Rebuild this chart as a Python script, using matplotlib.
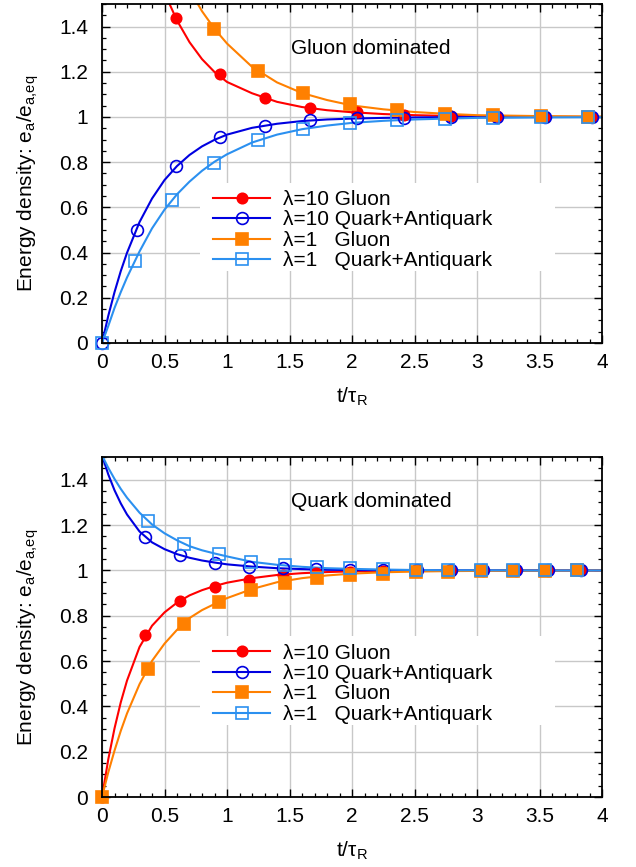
import matplotlib
matplotlib.use("Agg")
import matplotlib.pyplot as plt
from matplotlib.lines import Line2D
from matplotlib.patches import Rectangle
from matplotlib.ticker import MultipleLocator, FuncFormatter

plt.rcParams['font.family'] = ['Liberation Sans', 'DejaVu Sans']
plt.rcParams['mathtext.fontset'] = 'custom'
plt.rcParams['mathtext.rm'] = 'Liberation Sans'
plt.rcParams['mathtext.it'] = 'Liberation Sans:italic'

# time grid for the smooth curves (t / tau_R)
t_curve = [0, 0.05, 0.1, 0.15, 0.2, 0.3, 0.4, 0.5, 0.6, 0.7, 0.8, 0.9, 1.0,
           1.2, 1.4, 1.6, 1.8, 2.0, 2.25, 2.5, 2.75, 3.0, 3.5, 4.0]

# gluon dominated initial condition (top panel)
gd_g10 = [2.967, 2.731, 2.525, 2.342, 2.182, 1.915, 1.710, 1.549, 1.427, 1.331, 1.256, 1.199, 1.155,
          1.105, 1.067, 1.044, 1.030, 1.021, 1.013, 1.008, 1.005, 1.003, 1.001, 1.0]
gd_q10 = [0, 0.120, 0.225, 0.318, 0.399, 0.535, 0.639, 0.721, 0.783, 0.832, 0.870, 0.899, 0.922,
          0.952, 0.970, 0.982, 0.989, 0.993, 0.996, 0.998, 0.999, 0.9995, 1.0, 1.0]
gd_g1 = [2.967, 2.820, 2.662, 2.525, 2.397, 2.171, 1.970, 1.807, 1.673, 1.563, 1.468, 1.390, 1.325,
         1.222, 1.153, 1.106, 1.075, 1.051, 1.034, 1.022, 1.014, 1.008, 1.004, 1.002]
gd_q1 = [0, 0.075, 0.155, 0.225, 0.290, 0.405, 0.507, 0.590, 0.658, 0.714, 0.762, 0.802, 0.835,
         0.887, 0.922, 0.946, 0.962, 0.974, 0.983, 0.989, 0.993, 0.996, 0.998, 0.999]

# quark dominated initial condition (bottom panel)
qd_g10 = [0, 0.166, 0.303, 0.418, 0.514, 0.662, 0.756, 0.815, 0.858, 0.890, 0.913, 0.931, 0.946,
          0.966, 0.980, 0.988, 0.993, 0.996, 0.998, 0.999, 1.0, 1.0, 1.0, 1.0]
qd_q10 = [1.508, 1.424, 1.354, 1.296, 1.247, 1.172, 1.124, 1.094, 1.072, 1.056, 1.044, 1.035, 1.027,
          1.017, 1.010, 1.006, 1.003, 1.002, 1.001, 1.0, 1.0, 1.0, 1.0, 1.0]
qd_g1 = [0, 0.109, 0.205, 0.292, 0.369, 0.498, 0.601, 0.677, 0.738, 0.790, 0.825, 0.852, 0.878,
         0.918, 0.948, 0.966, 0.978, 0.986, 0.992, 0.995, 0.997, 0.998, 0.999, 1.0]
qd_q1 = [1.508, 1.453, 1.404, 1.360, 1.321, 1.255, 1.203, 1.164, 1.133, 1.107, 1.089, 1.075, 1.062,
         1.038, 1.025, 1.016, 1.010, 1.007, 1.004, 1.002, 1.001, 1.001, 1.0, 1.0]

# marker points
gd_t10 = [0, 0.277, 0.594, 0.94, 1.30, 1.667, 2.04, 2.416, 2.79, 3.16, 3.54, 3.92]
gd_mg10 = [2.967, 1.98, 1.436, 1.19, 1.086, 1.041, 1.021, 1.011, 1.006, 1.003, 1.002, 1.001]
gd_mq10 = [0, 0.502, 0.782, 0.91, 0.96, 0.987, 0.994, 0.997, 0.998, 0.999, 1.0, 1.0]
gd_t1 = [0, 0.264, 0.56, 0.893, 1.245, 1.61, 1.98, 2.36, 2.744, 3.125, 3.51, 3.89]
gd_mg1 = [2.967, 2.26, 1.72, 1.391, 1.204, 1.108, 1.058, 1.03, 1.015, 1.008, 1.004, 1.002]
gd_mq1 = [0, 0.361, 0.634, 0.797, 0.90, 0.947, 0.972, 0.985, 0.993, 0.996, 0.998, 0.999]

qd_t10 = [0, 0.344, 0.627, 0.901, 1.176, 1.445, 1.71, 1.98, 2.25, 2.52, 2.79, 3.05, 3.31, 3.57, 3.83]
qd_mg10 = [0, 0.715, 0.865, 0.926, 0.957, 0.978, 0.989, 0.994, 0.997, 0.998, 0.999, 1.0, 1.0, 1.0, 1.0]
qd_mq10 = [1.508, 1.146, 1.067, 1.035, 1.015, 1.009, 1.005, 1.003, 1.002, 1.001, 1.0, 1.0, 1.0, 1.0, 1.0]
qd_t1 = [0, 0.365, 0.658, 0.936, 1.195, 1.46, 1.72, 1.98, 2.245, 2.51, 2.77, 3.03, 3.29, 3.54, 3.80]
qd_mg1 = [0, 0.565, 0.763, 0.862, 0.913, 0.945, 0.965, 0.978, 0.986, 0.991, 0.995, 0.997, 0.998, 0.999, 1.0]
qd_mq1 = [1.508, 1.219, 1.117, 1.071, 1.038, 1.025, 1.016, 1.010, 1.007, 1.004, 1.002, 1.001, 1.001, 1.0, 1.0]

labels = ["λ=10 Gluon", "λ=10 Quark+Antiquark", "λ=1   Gluon", "λ=1   Quark+Antiquark"]
styles = [
    dict(color="#ff0000", marker="o", mfc="#ff0000", ms=7.5),
    dict(color="#0000e0", marker="o", mfc="none", ms=8.5),
    dict(color="#ff8000", marker="s", mfc="#ff8000", ms=8.5),
    dict(color="#2b90f0", marker="s", mfc="none", ms=8.5),
]

FS = 15
YMAX = 1.5


def draw(ax, curves, marks, title):
    ax.add_patch(Rectangle((0.196, 0.211), 0.71, 0.262, transform=ax.transAxes,
                           facecolor="white", edgecolor="none", zorder=1))
    for k, (yc, (tm, ym), st) in enumerate(zip(curves, marks, styles)):
        ax.plot(t_curve, yc, color=st["color"], lw=1.5, zorder=3 + k)
        pts = [(a, b) for a, b in zip(tm, ym) if b <= YMAX]
        ax.plot([p[0] for p in pts], [p[1] for p in pts], ls="none",
                marker=st["marker"], ms=st["ms"], mfc=st["mfc"], mec=st["color"],
                mew=1.2, clip_on=False, zorder=7 + k)
    handles = [Line2D([], [], color=st["color"], lw=1.5, marker=st["marker"], ms=st["ms"],
                      mfc=st["mfc"], mec=st["color"], mew=1.2) for st in styles]
    ax.legend(handles, labels, loc="upper left", bbox_to_anchor=(0.222, 0.451),
              frameon=False, fontsize=FS, borderpad=0, borderaxespad=0,
              labelspacing=0.065, handlelength=2.75, handletextpad=0.6)
    ax.text(1.51, 1.305, title, fontsize=FS, va="center", ha="left", zorder=12)

    ax.set_xlim(0, 4)
    ax.set_ylim(0, YMAX)
    ax.xaxis.set_major_locator(MultipleLocator(0.5))
    ax.xaxis.set_minor_locator(MultipleLocator(0.1))
    ax.yaxis.set_major_locator(MultipleLocator(0.2))
    ax.yaxis.set_minor_locator(MultipleLocator(0.05))
    fmt = FuncFormatter(lambda v, p: f"{v:g}")
    ax.xaxis.set_major_formatter(fmt)
    ax.yaxis.set_major_formatter(fmt)
    ax.tick_params(which="both", direction="in", top=True, right=True, labelsize=FS)
    ax.tick_params(which="major", length=6, width=1.0)
    ax.tick_params(which="minor", length=3, width=0.9)
    ax.tick_params(axis="x", pad=7)
    ax.tick_params(axis="y", pad=10)
    ax.grid(True, which="major", color="#c8c8c8", lw=1.0, zorder=0)
    ax.set_axisbelow(True)
    for s in ax.spines.values():
        s.set_linewidth(1.3)
        s.set_zorder(20)
    ax.set_ylabel(r"Energy density: $\mathregular{e_a/e_{a{,}eq}}$", fontsize=FS)
    ax.yaxis.set_label_coords(-0.122, 0.47)
    ax.set_xlabel(r"t/$\mathregular{\tau_R}$", fontsize=FS)
    ax.xaxis.set_label_coords(0.5, -0.125)


fig = plt.figure(figsize=(6.36, 8.67), dpi=100)
ax1 = fig.add_axes([0.1604, 0.6044, 0.7862, 0.391])
ax2 = fig.add_axes([0.1604, 0.0807, 0.7862, 0.392])

draw(ax1, [gd_g10, gd_q10, gd_g1, gd_q1],
     [(gd_t10, gd_mg10), (gd_t10, gd_mq10), (gd_t1, gd_mg1), (gd_t1, gd_mq1)],
     "Gluon dominated")
draw(ax2, [qd_g10, qd_q10, qd_g1, qd_q1],
     [(qd_t10, qd_mg10), (qd_t10, qd_mq10), (qd_t1, qd_mg1), (qd_t1, qd_mq1)],
     "Quark dominated")

fig.savefig("out.png", dpi=100, facecolor="white")
